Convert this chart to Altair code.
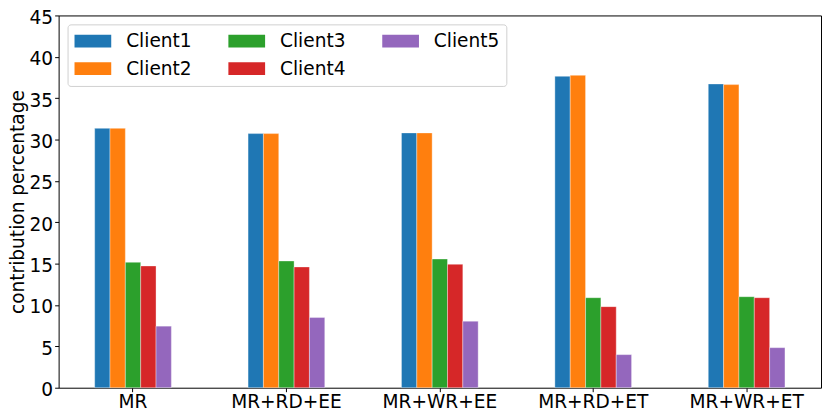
import altair as alt
import pandas as pd

methods = ["MR", "MR+RD+EE", "MR+WR+EE", "MR+RD+ET", "MR+WR+ET"]
clients = ["Client1", "Client2", "Client3", "Client4", "Client5"]
client1 = [31.35, 30.72, 30.8, 37.64, 36.72]
client2 = [31.35, 30.72, 30.8, 37.76, 36.64]
client3 = [15.16, 15.32, 15.56, 10.88, 11.0]
client4 = [14.72, 14.6, 14.92, 9.8, 10.88]
client5 = [7.44, 8.48, 8.04, 4.0, 4.84]
colors = ["#1f77b4", "#ff7f0e", "#2ca02c", "#d62728", "#9467bd"]

series = [client1, client2, client3, client4, client5]
rows = []
for c, vals in zip(clients, series):
    for m, v in zip(methods, vals):
        rows.append({"method": m, "client": c, "value": v})
df = pd.DataFrame(rows)

font = "DejaVu Sans"
fs = 18.7

chart = alt.Chart(df).mark_bar(stroke="white", strokeWidth=0.6, strokeOpacity=0.6).encode(
    x=alt.X("method:N", sort=methods, title=None,
            scale=alt.Scale(paddingInner=0.5, paddingOuter=0.235),
            axis=alt.Axis(labelAngle=0, labelFontSize=fs, labelFont=font, labelColor="black",
                          tickSize=4, tickColor="black", labelPadding=1, domain=False)),
    xOffset=alt.XOffset("client:N", sort=clients, scale=alt.Scale(paddingInner=0, paddingOuter=0)),
    y=alt.Y("value:Q", title="contribution percentage",
            scale=alt.Scale(domain=[0, 45], nice=False),
            axis=alt.Axis(values=list(range(0, 50, 5)), labelFontSize=fs, labelFont=font,
                          labelColor="black", tickSize=4, tickColor="black", labelPadding=2,
                          labelOffset=2,
                          titleFontSize=fs, titleFont=font, titleFontWeight="normal",
                          titleColor="black", titlePadding=2, grid=False, domain=False)),
    color=alt.Color("client:N", scale=alt.Scale(domain=clients, range=colors),
                    legend=alt.Legend(title=None, orient="top-left", direction="vertical",
                                      columns=3, offset=9,
                                      symbolType="M-2,-0.7L2,-0.7L2,0.7L-2,0.7Z",
                                      symbolSize=342, symbolStrokeWidth=0, symbolOffset=9,
                                      labelFontSize=fs, labelFont=font, labelColor="black",
                                      labelOffset=24, columnPadding=37, rowPadding=8,
                                      padding=7, strokeColor="#d0d0d0", fillColor="white",
                                      cornerRadius=3)),
).properties(
    width=768, height=375,
    padding={"left": 51, "top": 6, "right": 2, "bottom": 28},
    autosize="none",
).configure_view(
    stroke="black", strokeWidth=1
)

chart.save("out.html", embed_options={"renderer": "svg", "actions": False})
